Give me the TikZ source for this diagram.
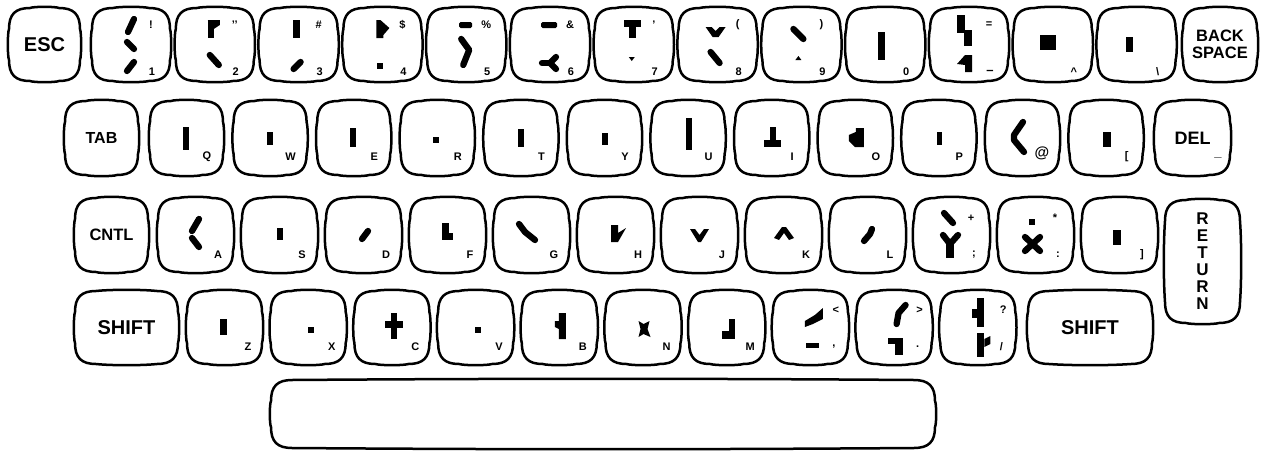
\documentclass[tikz,border=0pt]{standalone}
\usepackage{fontspec}
\setmainfont{Liberation Sans}
\newcommand\lox{60}\newcommand\loy{64}\newcommand\upx{59}\newcommand\upy{17}
\newcommand\rr{21}\newcommand\bb{1.6}
% outline of a key whose north-west corner is the local origin
\newcommand\Outline[2]{%
 \draw[keyline] (\rr,0) .. controls (#1*0.35,-\bb) and (#1*0.65,-\bb) .. (#1-\rr,0)
   .. controls (#1-0.3*\rr,0) and (#1,0.3*\rr) .. (#1,\rr)
   .. controls (#1+\bb,#2*0.35) and (#1+\bb,#2*0.65) .. (#1,#2-\rr)
   .. controls (#1,#2-0.3*\rr) and (#1-0.3*\rr,#2) .. (#1-\rr,#2)
   .. controls (#1*0.65,#2+\bb) and (#1*0.35,#2+\bb) .. (\rr,#2)
   .. controls (0.3*\rr,#2) and (0,#2-0.3*\rr) .. (0,#2-\rr)
   .. controls (-\bb,#2*0.65) and (-\bb,#2*0.35) .. (0,\rr)
   .. controls (0,0.3*\rr) and (0.3*\rr,0) .. (\rr,0) -- cycle;}
\newcommand\Key[8]{%
 \begin{scope}[shift={(#2,#3)}]
  \node[keyhold, minimum width=#4pt, minimum height=#5pt] (#1) at (#4/2,#5/2) {};
  \Outline{#4}{#5}
  \if\relax\detokenize{#6}\relax\else\node[sm] (#1-lo) at (\lox,\loy) {#6};\fi
  \if\relax\detokenize{#7}\relax\else\node[smup] (#1-up) at (\upx,\upy) {#7};\fi
  #8
 \end{scope}}
\newcommand\SKey[7]{%
 \begin{scope}[shift={(#2,#3)}]
  \node[keyhold, minimum width=#4pt, minimum height=#5pt, align=center,
        font=\fontsize{#6}{#6}\selectfont\bfseries] (#1) at (#4/2,#5/2) {#7};
  \Outline{#4}{#5}
 \end{scope}}
\begin{document}
\begin{tikzpicture}[x=1pt,y=-1pt,
 keyhold/.style={inner sep=0pt, outer sep=0pt},
 keyline/.style={line width=2.5pt, line join=round},
 gs/.style={line width=6.3pt, line cap=round, line join=round},
 sm/.style={font=\fontsize{11}{11}\selectfont\bfseries, inner sep=0pt},
 smup/.style={font=\fontsize{11}{11}\selectfont\bfseries, inner sep=0pt},
]
\useasboundingbox (0,0) rectangle (1264,455);
% ---------------- row 1
\SKey{esc}{9}{8}{71}{73}{20}{ESC}
\Key{k1}{92}{8}{78}{73}{1}{!}{%
 \draw[gs] (42,11)--(36,24);
 \draw[gs] (35,34)--(42,41);
 \draw[gs] (42,54)--(35,63);}
\Key{k2}{175.8}{8}{78}{73}{2}{’’}{%
 \fill (32,12) rectangle (38,30);
 \fill (32,12) -- (44,12) -- (44,17) -- (38,21) -- cycle;
 \draw[gs] (34,47)--(43,57);}
\Key{k3}{259.6}{8}{78}{73}{3}{\#}{%
 \fill (33,12) rectangle (40,30);
 \draw[gs] (41,54)--(34,61);}
\Key{k4}{343.4}{8}{78}{73}{4}{\$}{%
 \fill (33,12) -- (37,12) -- (46,20) -- (40,27) -- (40,30) -- (33,30) -- cycle;
 \fill (34,55) rectangle (40,61);}
\Key{k5}{427.2}{8}{78}{73}{5}{\%}{%
 \fill[rounded corners=1.5pt] (32,14) rectangle (45,20);
 \draw[gs] (34,31)--(42,42)--(36,57);}
\Key{k6}{511}{8}{78}{73}{6}{\&}{%
 \fill[rounded corners=1.5pt] (30,14) rectangle (46,20);
 \draw[gs] (31,55)--(39,55);
 \draw[gs] (45,49)--(39,55)--(45,61);}
\Key{k7}{594.8}{8}{78}{73}{7}{’}{%
 \fill (29,12) rectangle (46,19);
 \fill (34,12) rectangle (41,30);
 \fill (34,49) -- (40,49) -- (37,53) -- cycle;}
\Key{k8}{678.6}{8}{78}{73}{8}{(}{%
 \fill (27,19) -- (33,19) -- (37,23) -- (41,19) -- (47,19) -- (40,29) -- (34,29) -- cycle;
 \draw[gs] (32,44)--(41,55);}
\Key{k9}{762.4}{8}{78}{73}{9}{)}{%
 \draw[gs] (31,21)--(41,31);
 \fill (33,52) -- (39,52) -- (36,48) -- cycle;}
\Key{k0}{846.2}{8}{78}{73}{0}{}{%
 \fill (32,24) rectangle (39,52);}
\Key{keq}{930}{8}{78}{73}{\fontsize{13}{13}\selectfont –}{=}{%
 \fill (27,7) rectangle (35,25);
 \fill (34,22) rectangle (42,38);
 \fill (27,56)--(35,47)--(42,47)--(42,64)--(35,64)--(35,57)--cycle;}
\Key{kcirc}{1013.8}{8}{78}{73}{\textasciicircum}{}{%
 \fill (26,27) rectangle (42,42);}
\Key{kbsl}{1097.6}{8}{78}{73}{\textbackslash}{}{%
 \fill (28,29) rectangle (35,44);}
\SKey{bksp}{1183}{8}{74}{73}{16.5}{\fontsize{16.5}{17}\selectfont BACK\\SPACE}
% ---------------- row 2
\renewcommand\lox{57}\renewcommand\loy{56}
\SKey{tab}{65}{101}{73}{74}{16}{TAB}
\Key{kq}{150}{101}{73}{74}{Q}{}{\fill (33,26) rectangle (39,49);}
\Key{kw}{233.6}{101}{73}{74}{W}{}{\fill (33,31) rectangle (39,44);}
\Key{ke}{317.2}{101}{73}{74}{E}{}{\fill (33,27) rectangle (39,46);}
\Key{kr}{400.8}{101}{73}{74}{R}{}{\fill (32,36) rectangle (38,42);}
\Key{kt}{484.4}{101}{73}{74}{T}{}{\fill (34,28) rectangle (40,46);}
\Key{ky}{568}{101}{73}{74}{Y}{}{\fill (34,32) rectangle (40,44);}
\Key{ku}{651.6}{101}{73}{74}{U}{}{\fill (34,17) rectangle (40,49);}
\Key{ki}{735.2}{101}{73}{74}{I}{}{\fill (35,26) rectangle (41,41); \fill (29,39) rectangle (46,46);}
\Key{ko}{818.8}{101}{73}{74}{O}{}{\fill (37,27) -- (45,27) -- (45,46) -- (36,46) -- (30,40) -- (30,34) -- (37,31) -- cycle;}
\Key{kp}{902.4}{101}{73}{74}{P}{}{\fill (35,31) rectangle (40,44);}
\Key{kat}{986}{101}{73}{74}{}{}{%
 \draw[gs] (37,21)--(28,34)--(28,39)--(38,51);
 \node[font=\fontsize{15}{15}\selectfont\bfseries, inner sep=0pt] (kat-lo) at (56,52) {@};}
\Key{klb}{1069.6}{101}{73}{74}{[}{}{\fill (33,31) rectangle (41,46);}
\SKey{del}{1155}{101}{75}{74}{18}{DEL}
\node[font=\fontsize{13}{13}\selectfont\bfseries, inner sep=0pt] (del-lo) at (1218,157) {\_};
% ---------------- row 3
\renewcommand\lox{60}\renewcommand\loy{57}\renewcommand\upx{57}\renewcommand\upy{20}
\SKey{cntl}{75}{198}{73}{74}{16.5}{CNTL}
\Key{ka}{158}{198}{75}{74}{A}{}{\draw[gs] (41,21)--(34,33); \draw[gs] (34,40)--(41,49);}
\Key{ks}{242}{198}{75}{74}{S}{}{\fill (35,30) rectangle (41,42);}
\Key{kd}{326}{198}{75}{74}{D}{}{\draw[gs] (42,33)--(36,41);}
\Key{kf}{410}{198}{75}{74}{F}{}{\fill (32,25) rectangle (39,42); \fill (32,35) rectangle (43,42);}
\Key{kg}{494}{198}{75}{74}{G}{}{\draw[gs] (25,26)--(31,34)--(41,42);}
\Key{kh}{578}{198}{75}{74}{H}{}{\fill (33,27) -- (40,27) -- (40,35) -- (48,30) -- (40,44) -- (33,44) -- cycle;}
\Key{kj}{662}{198}{75}{74}{J}{}{\fill (28,31) -- (33,31) -- (37.5,37) -- (42,31) -- (47,31) -- (39,44) -- (36,44) -- cycle;}
\Key{kk}{746}{198}{75}{74}{K}{}{\fill (36,29) -- (40,29) -- (48,40) -- (43,42) -- (38,35) -- (33,42) -- (28,40) -- cycle;}
\Key{kl}{830}{198}{75}{74}{L}{}{\draw[gs] (42,31)--(40,36)--(34,43);}
\Key{ksc}{914}{198}{75}{74}{;}{+}{%
 \draw[gs] (30,15)--(39,25);
 \draw[gs] (29,37)--(36,46)--(44,37);
 \draw[line width=7.5pt] (36,45)--(36,60);}
\Key{kco}{998}{198}{75}{74}{:}{*}{%
 \fill (31,21) rectangle (37,27);
 \draw[gs] (27,39)--(42,53);
 \draw[gs] (42,39)--(27,53);}
\Key{krb}{1082}{198}{75}{74}{]}{}{\fill (31,32) rectangle (39,47);}
\SKey{ret}{1165}{200}{75}{123}{17}{\fontsize{17}{18.8}\selectfont R\\E\\T\\U\\R\\N}
% ---------------- row 4
\renewcommand\lox{61}\renewcommand\loy{56}\renewcommand\upx{63}\renewcommand\upy{19}
\SKey{lshift}{75}{291}{103}{73}{20}{SHIFT}
\Key{kz}{187}{291}{75}{73}{Z}{}{\fill (33,28) rectangle (40,44);}
\Key{kx}{270.7}{291}{75}{73}{X}{}{\fill (37,36) rectangle (43,42);}
\Key{kc}{354.4}{291}{75}{73}{C}{}{\fill (37,22) rectangle (43,48); \fill (31,30) rectangle (49,37);}
\Key{kv}{438.1}{291}{75}{73}{V}{}{\fill (37,36) rectangle (43,42);}
\Key{kb}{521.8}{291}{75}{73}{B}{}{\fill (37,22) -- (44,22) -- (44,48) -- (37,48) -- (37,38) -- (33,36) -- (33,30) -- (37,30) -- cycle;}
\Key{kn}{605.5}{291}{75}{73}{N}{}{\fill (33,30) -- (38,33) -- (44,30) -- (42,38) -- (45,46) -- (38,43) -- (33,46) -- (35,38) -- cycle;}
\Key{km}{689.2}{291}{75}{73}{M}{}{\fill (40,28) rectangle (46,48); \fill (33,40) rectangle (46,48);}
\Key{kcm}{772.9}{291}{75}{73}{,}{<}{%
 \fill (32,30) -- (42,24) -- (50,17) -- (50,28) -- (40,33) -- (32,36) -- cycle;
 \fill (33,52) rectangle (46,57);}
\Key{kpd}{856.6}{291}{75}{73}{.}{>}{%
 \draw[gs] (49,14)--(42,22)--(40,33);
 \fill (31,47) rectangle (46,53); \fill (38,47) rectangle (46,64);}
\Key{ksl}{940.3}{291}{75}{73}{/}{?}{%
 \fill (37,7) rectangle (44,36); \fill (32,18) rectangle (37,27);
 \fill (37,42) rectangle (44,66); \fill (44,48) -- (50,45) -- (50,53) -- (44,56) -- cycle;}
\SKey{rshift}{1028}{291}{124}{73}{20}{SHIFT}
% ---------------- space bar
\SKey{space}{271}{380}{664}{68}{10}{}
\end{tikzpicture}
\end{document}
